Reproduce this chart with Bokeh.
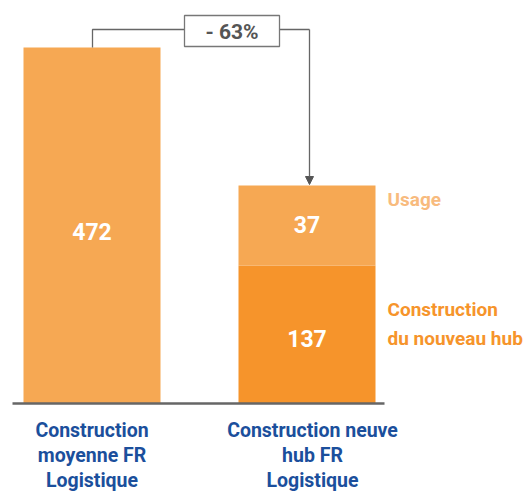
from bokeh.plotting import figure
from bokeh.models import ColumnDataSource, Range1d, Arrow, NormalHead
from bokeh.core.properties import value
from bokeh.embed import file_html
from bokeh.resources import INLINE

# ---- data ----
category_lines = [["Construction", "moyenne FR", "Logistique"],
                  ["Construction neuve", "hub FR", "Logistique"]]
avg_value = 472
hub_construction = 137
hub_usage = 37
# bar heights as drawn in the reference (not to scale), in value units
avg_height = 472
hub_construction_height = 183
hub_usage_height = 106
delta_label = "- 63%"
legend_usage = ["Usage"]
legend_construction = ["Construction", "du nouveau hub"]

# ---- layout ----
W, H = 526, 494
K = 472 / 356.0            # value units per pixel
BASE_Y = 403               # baseline position (pixels from top)
y0 = -(H - BASE_Y) * K
y1 = BASE_Y * K

def py(img_y):
    return y0 + (H - img_y) * K

def px(img_x):
    return img_x

FONT = value("Roboto")
C_LIGHT = "#F6A853"
C_DARK = "#F6942B"
C_BLUE = "#1B4F9C"
C_GRAY = "#666666"

x1, x2 = px(91.5), px(306.5)
bw = 137

p = figure(width=W, height=H, output_backend="svg", toolbar_location=None,
           x_range=Range1d(0, W), y_range=Range1d(y0, y1),
           min_border=0, min_border_left=0, min_border_right=0,
           min_border_top=0, min_border_bottom=0)
p.axis.visible = False
p.grid.visible = False
p.outline_line_color = None
p.background_fill_color = "white"

# bars
p.vbar(x=[x1], width=bw, bottom=0, top=[avg_height], color=C_LIGHT, line_color=None)
p.vbar(x=[x2], width=bw, bottom=0, top=[hub_construction_height], color=C_DARK, line_color=None)
p.vbar(x=[x2], width=bw, bottom=[hub_construction_height],
       top=[hub_construction_height + hub_usage_height], color=C_LIGHT, line_color=None)

# baseline
p.line(x=[px(12), px(384)], y=[0, 0], line_color=C_GRAY, line_width=2.5)

# value labels
lab = ColumnDataSource(dict(
    x=[x1, x2, x2],
    y=[avg_height / 2 - 6 * K, hub_construction_height + hub_usage_height / 2 + 1 * K,
       hub_construction_height / 2 - 4 * K],
    t=[str(avg_value), str(hub_usage), str(hub_construction)]))
p.text(x="x", y="y", text="t", source=lab, text_color="white", text_font=FONT,
       text_font_size="23px", text_font_style="bold", text_align="center",
       text_baseline="middle")

# category labels (one text per line)
cx, cy, ct = [], [], []
for xc, lines in zip([x1, px(312)], category_lines):
    for i, ln in enumerate(lines):
        cx.append(xc)
        cy.append(py(430 + 25 * i))
        ct.append(ln)
p.text(x=cx, y=cy, text=ct, text_color=C_BLUE,
       text_font=FONT, text_font_size="19.5px", text_font_style="bold",
       text_align="center", text_baseline="middle")

# legend labels
p.text(x=[px(387)], y=[py(199)], text=legend_usage, text_color="#F8BB7E",
       text_font=FONT, text_font_size="19px", text_font_style="bold",
       text_align="left", text_baseline="middle")
p.text(x=[px(387), px(387)], y=[py(309), py(338)], text=legend_construction,
       text_color=C_DARK, text_font=FONT, text_font_size="19px",
       text_font_style="bold", text_align="left", text_baseline="middle")

# bracket annotation
yb = py(29)
p.line(x=[px(92), px(92), px(184)], y=[avg_height, yb, yb], line_color=C_GRAY, line_width=1.3)
p.line(x=[px(279), px(309)], y=[yb, yb], line_color=C_GRAY, line_width=1.3)
p.add_layout(Arrow(end=NormalHead(size=8, fill_color="#555555", line_color="#555555"),
                   x_start=px(309), y_start=yb, x_end=px(309),
                   y_end=hub_construction_height + hub_usage_height + 1 * K,
                   line_color=C_GRAY, line_width=1.3))
p.quad(left=[px(184)], right=[px(279)], bottom=[py(46)], top=[py(15)],
       fill_color="white", line_color="#777777", line_width=1.3)
p.text(x=[px(231.5)], y=[py(31)], text=[delta_label], text_color="#555555",
       text_font=FONT, text_font_size="21px", text_font_style="bold",
       text_align="center", text_baseline="middle")

open("out.html", "w").write(file_html(p, INLINE))
